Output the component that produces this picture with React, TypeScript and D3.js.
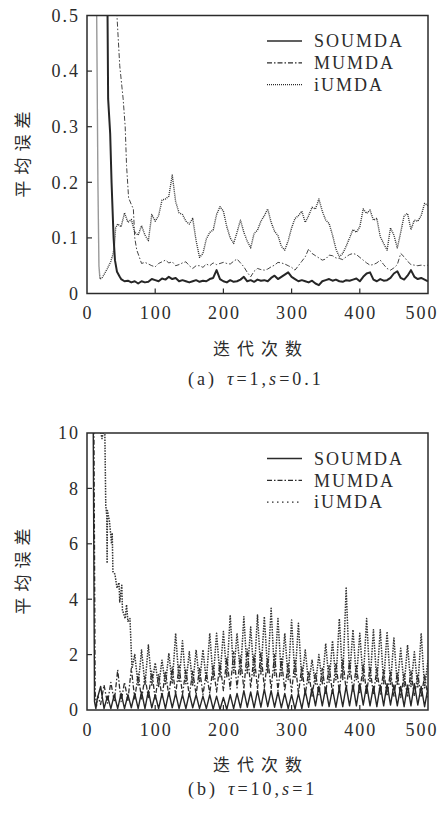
import React from 'react';
import * as d3 from 'd3';

// ---------- shared ----------
const xTicks = [0, 100, 200, 300, 400, 500];
const yTicksA = [0, 0.1, 0.2, 0.3, 0.4, 0.5];
const yTicksB = [0, 2, 4, 6, 8, 10];
const legendNames = ['SOUMDA', 'MUMDA', 'iUMDA'];

const tailIter = d3.range(100, 501, 5);

// ---------- panel (a): tau=1, s=0.1 ----------
const soumdaAHeadIter = [0, 28, 30, 31, 34, 36, 39, 41, 44, 48, 50, 55, 60, 65, 70, 75, 80, 85, 90, 95];
const soumdaAHead = [3.0, 0.7, 0.52, 0.35, 0.287, 0.2, 0.1, 0.06, 0.039, 0.03, 0.026, 0.022, 0.023, 0.02, 0.022, 0.018, 0.022, 0.02, 0.021, 0.026];
const soumdaATail = [
  0.024, 0.022, 0.027, 0.025, 0.030, 0.026, 0.028, 0.022, 0.024, 0.022,
  0.020, 0.022, 0.024, 0.021, 0.023, 0.022, 0.026, 0.028, 0.042, 0.026,
  0.022, 0.020, 0.024, 0.021, 0.022, 0.025, 0.030, 0.022, 0.024, 0.021,
  0.025, 0.023, 0.024, 0.022, 0.028, 0.032, 0.026, 0.030, 0.034, 0.038,
  0.030, 0.026, 0.022, 0.024, 0.022, 0.020, 0.023, 0.018, 0.015, 0.022,
  0.024, 0.026, 0.023, 0.025, 0.022, 0.021, 0.024, 0.023, 0.025, 0.027,
  0.022, 0.030, 0.036, 0.038, 0.025, 0.022, 0.026, 0.023, 0.024, 0.028,
  0.036, 0.040, 0.028, 0.025, 0.032, 0.042, 0.030, 0.026, 0.028, 0.025,
  0.022,
];

const mumdaAHeadIter = [0, 40, 43, 48, 53, 56, 58, 61, 65, 68, 70, 73, 76, 80, 85, 90, 95];
const mumdaAHead = [3.0, 0.7, 0.52, 0.41, 0.35, 0.30, 0.23, 0.172, 0.16, 0.152, 0.10, 0.078, 0.068, 0.054, 0.056, 0.053, 0.05];
const mumdaATail = [
  0.048, 0.054, 0.057, 0.060, 0.055, 0.057, 0.050, 0.052, 0.055, 0.057,
  0.050, 0.045, 0.050, 0.050, 0.047, 0.053, 0.050, 0.055, 0.052, 0.054,
  0.056, 0.054, 0.053, 0.058, 0.062, 0.055, 0.048, 0.038, 0.030, 0.040,
  0.045, 0.043, 0.042, 0.044, 0.048, 0.051, 0.056, 0.055, 0.053, 0.050,
  0.047, 0.042, 0.050, 0.058, 0.066, 0.080, 0.072, 0.068, 0.064, 0.060,
  0.062, 0.069, 0.068, 0.064, 0.063, 0.061, 0.066, 0.070, 0.072, 0.070,
  0.065, 0.060, 0.055, 0.051, 0.052, 0.055, 0.060, 0.052, 0.045, 0.042,
  0.046, 0.052, 0.072, 0.066, 0.058, 0.052, 0.051, 0.050, 0.051, 0.050,
  0.051,
];

const iumdaAHeadIter = [0, 13, 14.5, 16, 17.5, 19, 22, 25, 30, 35, 38, 40, 42, 45, 50, 55, 60, 65, 70, 75, 80, 85, 90, 95];
const iumdaAHead = [3.0, 0.7, 0.45, 0.2, 0.05, 0.026, 0.028, 0.034, 0.045, 0.058, 0.07, 0.083, 0.118, 0.125, 0.12, 0.145, 0.128, 0.133, 0.11, 0.105, 0.122, 0.105, 0.095, 0.142];
const iumdaATail = [
  0.130, 0.140, 0.168, 0.170, 0.175, 0.213, 0.165, 0.145, 0.142, 0.130,
  0.125, 0.135, 0.095, 0.065, 0.072, 0.098, 0.110, 0.114, 0.142, 0.156,
  0.148, 0.120, 0.100, 0.090, 0.110, 0.132, 0.110, 0.094, 0.082, 0.108,
  0.114, 0.130, 0.140, 0.152, 0.128, 0.112, 0.104, 0.085, 0.078, 0.095,
  0.118, 0.135, 0.140, 0.148, 0.128, 0.140, 0.155, 0.152, 0.170, 0.148,
  0.132, 0.126, 0.105, 0.080, 0.066, 0.072, 0.085, 0.100, 0.115, 0.110,
  0.120, 0.152, 0.144, 0.150, 0.132, 0.135, 0.102, 0.090, 0.078, 0.118,
  0.105, 0.082, 0.110, 0.140, 0.144, 0.115, 0.132, 0.130, 0.140, 0.162,
  0.158,
];

// ---------- panel (b): tau=10, s=1 ----------
const soumdaBHeadIter = [0, 9, 11, 13, 15, 20, 25, 30, 35, 40, 45, 50, 55, 60, 65, 70, 75, 80, 85, 90, 95];
const soumdaBHead = [12, 11, 0.3, 0.05, 0.4, 0.85, 0.05, 0.5, 0.05, 0.55, 0.05, 0.6, 0.05, 0.55, 0.08, 0.6, 0.05, 0.65, 0.05, 0.7, 0.08];
const soumdaBTail = [
  0.55, 0.05, 0.60, 0.05, 0.65, 0.08, 0.60, 0.05, 0.55, 0.05,
  0.60, 0.08, 0.55, 0.05, 0.50, 0.05, 0.55, 0.03, 0.50, 0.02,
  0.45, 0.02, 0.55, 0.05, 0.60, 0.08, 0.70, 0.10, 0.65, 0.08,
  0.70, 0.10, 0.75, 0.12, 0.70, 0.10, 0.65, 0.08, 0.60, 0.05,
  0.55, 0.03, 0.60, 0.05, 0.70, 0.10, 0.80, 0.15, 0.85, 0.15,
  0.80, 0.12, 0.75, 0.10, 0.80, 0.12, 0.85, 0.15, 0.90, 0.15,
  0.95, 0.18, 0.90, 0.15, 0.85, 0.12, 0.90, 0.15, 0.95, 0.18,
  0.90, 0.15, 0.85, 0.12, 0.90, 0.15, 0.95, 0.18, 0.85, 0.12,
  0.80,
];

const mumdaBHeadIter = [0, 10, 12, 14, 16, 20, 25, 30, 35, 40, 45, 50, 55, 60, 65, 70, 75, 80, 85, 90, 95];
const mumdaBHead = [12, 11, 0.6, 0.15, 0.5, 0.2, 0.9, 0.25, 1.0, 0.3, 1.45, 0.3, 1.0, 0.35, 1.5, 0.4, 1.3, 0.4, 1.2, 0.45, 1.4];
const mumdaBTail = [
  0.40, 1.30, 0.45, 1.40, 0.50, 1.55, 0.55, 1.60, 0.55, 1.45,
  0.50, 1.40, 0.55, 1.50, 0.55, 1.35, 0.60, 1.60, 0.65, 1.70,
  0.70, 1.90, 0.75, 2.10, 0.80, 1.95, 0.75, 2.20, 0.80, 2.00,
  0.75, 2.10, 0.80, 1.90, 0.75, 2.00, 0.70, 1.85, 0.70, 1.70,
  0.65, 1.80, 0.60, 1.55, 0.55, 1.40, 0.50, 1.35, 0.55, 1.50,
  0.60, 1.60, 0.60, 1.70, 0.65, 1.85, 0.70, 1.75, 0.65, 1.60,
  0.60, 1.65, 0.60, 1.55, 0.55, 1.50, 0.55, 1.45, 0.50, 1.40,
  0.50, 1.35, 0.45, 1.30, 0.45, 1.40, 0.50, 1.30, 0.45, 1.25,
  0.45,
];

const iumdaBHeadIter = [0, 20, 22, 24, 26, 27.5, 29, 29.5, 30, 33, 36, 37, 38, 41, 44, 47, 48, 51, 52, 56, 58, 60, 63, 66, 70, 75, 80, 85, 90, 95];
const iumdaBHead = [10.3, 10.05, 9.8, 10.05, 10.3, 7.4, 7.0, 5.3, 7.2, 6.8, 6.0, 6.4, 5.0, 4.9, 4.4, 4.6, 3.9, 4.5, 3.6, 3.3, 3.8, 3.2, 3.3, 1.5, 2.0, 0.9, 2.17, 0.9, 2.35, 0.9];
const iumdaBTail = [
  1.70, 0.85, 1.80, 0.90, 2.05, 0.95, 2.77, 1.00, 2.50, 0.95,
  2.10, 0.90, 2.17, 1.00, 2.17, 1.05, 2.77, 1.10, 2.77, 1.20,
  2.83, 1.20, 3.43, 1.30, 2.77, 1.25, 3.37, 1.30, 3.00, 1.20,
  3.43, 1.30, 3.37, 1.35, 3.67, 1.25, 3.30, 1.20, 2.77, 1.10,
  3.25, 1.15, 3.13, 1.05, 2.17, 0.95, 1.80, 0.90, 2.00, 0.95,
  2.40, 1.00, 2.50, 1.05, 3.30, 1.10, 4.40, 1.20, 2.90, 1.10,
  2.77, 1.05, 3.30, 1.00, 2.90, 1.00, 2.90, 0.95, 2.83, 0.90,
  2.60, 0.90, 2.23, 0.85, 2.35, 0.85, 2.10, 0.80, 2.77, 0.80,
  1.80,
];

type Pt = [number, number];
const join = (hi: number[], hv: number[], tv: number[]): Pt[] => [
  ...hi.map((x, i) => [x, hv[i]] as Pt),
  ...tailIter.map((x, i) => [x, tv[i]] as Pt).filter(d => d[1] !== undefined),
];

const INK = '#2b2b2b';
const SERIF = '"Liberation Serif", "Times New Roman", serif';
const CJK = '"Noto Sans CJK SC", sans-serif';

interface SeriesDef { data: Pt[]; dash: string; width: number; color: string; }

interface PanelProps {
  id: string;
  top: number;
  bottom: number;
  yMax: number;
  yTicks: number[];
  fmt: (v: number) => string;
  series: SeriesDef[];
  legendDash: string[];
  legendWidth: number[];
  captionY: number;
  captionLabel: string;
  tau: string;
  s: string;
}

const LEFT = 87;
const RIGHT = 428;

const Panel = (p: PanelProps) => {
  const x = d3.scaleLinear().domain([0, 500]).range([LEFT, RIGHT]);
  const y = d3.scaleLinear().domain([0, p.yMax]).range([p.bottom, p.top]);
  const line = d3.line<Pt>().x(d => x(d[0])).y(d => y(d[1]));
  const midY = (p.top + p.bottom) / 2;
  return (
    <g>
      <defs>
        <clipPath id={`clip-${p.id}`}>
          <rect x={LEFT} y={p.top} width={RIGHT - LEFT} height={p.bottom - p.top} />
        </clipPath>
      </defs>
      <g clipPath={`url(#clip-${p.id})`}>
        {p.series.map((s, i) => (
          <path key={i} d={line(s.data) || ''} fill="none" stroke={s.color}
            strokeWidth={s.width} strokeDasharray={s.dash} strokeLinejoin="round" />
        ))}
      </g>
      {/* frame */}
      <rect x={LEFT} y={p.top} width={RIGHT - LEFT} height={p.bottom - p.top}
        fill="none" stroke={INK} strokeWidth={1.5} />
      {/* inward ticks */}
      {p.yTicks.slice(1, -1).map(t => (
        <line key={t} x1={LEFT} x2={LEFT + 5} y1={y(t)} y2={y(t)} stroke={INK} strokeWidth={1.2} />
      ))}
      {xTicks.slice(1, -1).map(t => (
        <line key={t} x1={x(t)} x2={x(t)} y1={p.bottom} y2={p.bottom - 5} stroke={INK} strokeWidth={1.2} />
      ))}
      {/* y tick labels */}
      {p.yTicks.map(t => (
        <text key={t} x={LEFT - 7} y={y(t)} dy="0.35em" textAnchor="end"
          fontFamily={SERIF} fontSize={18} letterSpacing={2} fill={INK}>{p.fmt(t)}</text>
      ))}
      {/* x tick labels; the last one is pulled in to stay on the page */}
      {xTicks.map((t, i) => (
        <text key={t} x={i === xTicks.length - 1 ? x(t) - 6 : x(t) + 1} y={p.bottom + 25.5}
          textAnchor="middle" fontFamily={SERIF} fontSize={18} letterSpacing={2} fill={INK}>{t}</text>
      ))}
      {/* axis titles */}
      <text x={261} y={p.bottom + 61} textAnchor="middle" fontFamily={CJK}
        fontSize={17} letterSpacing={7} fill={INK}>迭代次数</text>
      <text transform={`translate(29, ${midY}) rotate(-90)`} x={3} y={0} textAnchor="middle"
        fontFamily={CJK} fontSize={17} letterSpacing={6} fill={INK}>平均误差</text>
      {/* legend */}
      {legendNames.map((name, i) => {
        const ly = p.top + 25.5 + i * 21.8;
        return (
          <g key={name}>
            <line x1={267} x2={302} y1={ly} y2={ly} stroke={INK}
              strokeWidth={p.legendWidth[i]} strokeDasharray={p.legendDash[i]} />
            <text x={314} y={ly} dy="0.35em" fontFamily={SERIF} fontSize={18}
              letterSpacing={2} fill={INK}>{name}</text>
          </g>
        );
      })}
      {/* caption */}
      <text x={188} y={p.captionY} fontFamily={SERIF} fontSize={18} fill={INK} letterSpacing={3}>
        ({p.captionLabel})
        <tspan dx={10} fontStyle="italic">τ</tspan>
        <tspan>={p.tau},</tspan>
        <tspan fontStyle="italic">s</tspan>
        <tspan>={p.s}</tspan>
      </text>
    </g>
  );
};

const App = () => {
  const seriesA: SeriesDef[] = [
    { data: join(mumdaAHeadIter, mumdaAHead, mumdaATail), dash: '5,2,1.5,2', width: 1, color: '#444' },
    { data: join(iumdaAHeadIter, iumdaAHead, iumdaATail), dash: '1,1', width: 1.4, color: '#333' },
    { data: join(soumdaAHeadIter, soumdaAHead, soumdaATail), dash: '', width: 2, color: '#262626' },
  ];
  const seriesB: SeriesDef[] = [
    { data: join(iumdaBHeadIter, iumdaBHead, iumdaBTail), dash: '1.5,1.2', width: 1.5, color: '#333' },
    { data: join(mumdaBHeadIter, mumdaBHead, mumdaBTail), dash: '5,2,1.5,2', width: 1.3, color: '#2e2e2e' },
    { data: join(soumdaBHeadIter, soumdaBHead, soumdaBTail), dash: '', width: 1.4, color: '#262626' },
  ];
  return (
    <svg width={442} height={816} style={{ position: 'absolute', left: 0, top: 0, background: '#fff' }}>
      <rect width={442} height={816} fill="#fff" />
      <Panel id="a" top={15.5} bottom={293.5} yMax={0.5} yTicks={yTicksA}
        fmt={v => (v === 0 ? '0' : v.toFixed(1))} series={seriesA}
        legendDash={['', '5,2,1.5,2', '1,1']} legendWidth={[1.6, 1.3, 1.3]}
        captionY={385} captionLabel="a" tau="1" s="0.1" />
      <Panel id="b" top={433} bottom={710} yMax={10} yTicks={yTicksB}
        fmt={v => String(v)} series={seriesB}
        legendDash={['', '5,2,1.5,2', '1.5,3.5']} legendWidth={[1.6, 1.3, 1.3]}
        captionY={795} captionLabel="b" tau="10" s="1" />
    </svg>
  );
};

export default App;
